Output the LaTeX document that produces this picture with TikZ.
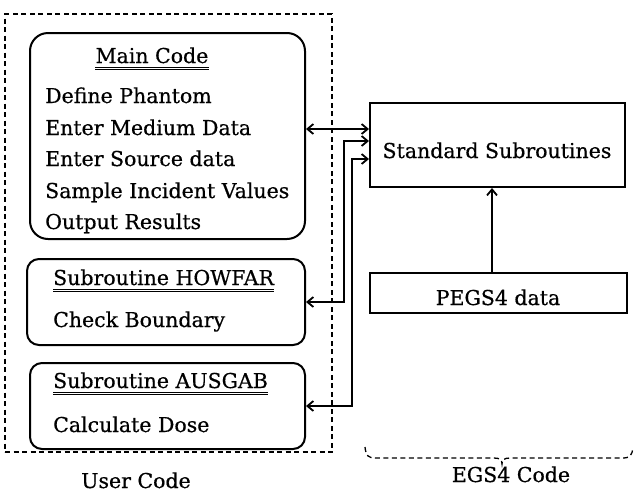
\documentclass[tikz,border=0pt]{standalone}
\usepackage{fontspec}
\setmainfont{DejaVu Serif}[FakeBold=0.6]
\usetikzlibrary{arrows.meta}
\begin{document}
\begin{tikzpicture}[x=1pt,y=-1pt,
    >={Straight Barb[length=6pt,width=10pt]},
    box/.style={draw, line width=2pt, inner sep=0pt},
    ubox/.style={box, rounded corners=18pt},
    txt/.style={anchor=base west, inner sep=0pt, font=\fontsize{20.5}{24}\selectfont},
    ctxt/.style={txt, anchor=base},
    link/.style={line width=1.8pt, <->},
    uline/.style={double, double distance=1.6pt, line width=0.9pt},
    frame/.style={draw, line width=1.3pt, dash pattern=on 5pt off 3.5pt}]
  \useasboundingbox (0,0) rectangle (635,496);

  % user side
  \node[frame, minimum width=327pt, minimum height=438pt] (user) at (168.5,233) {};
  \node[ubox, minimum width=275pt, minimum height=206pt] (main) at (167.5,136) {};
  \node[ubox, rounded corners=12pt, minimum width=278pt, minimum height=86pt] (howfar) at (166,302) {};
  \node[ubox, rounded corners=12pt, minimum width=275pt, minimum height=86pt] (ausgab) at (167.5,406) {};

  \node[ctxt] (mt) at (152,63) {Main Code};
  \node[txt] (m1) at (45,103) {Define Phantom};
  \node[txt] (m2) at (45,135) {Enter Medium Data};
  \node[txt] (m3) at (45,166) {Enter Source data};
  \node[txt] (m4) at (45,198) {Sample Incident Values};
  \node[txt] (m5) at (45,229) {Output Results};

  \node[txt] (ht) at (53,285) {Subroutine HOWFAR};
  \node[txt] (h1) at (53,327) {Check Boundary};
  \node[txt] (at) at (53,388) {Subroutine AUSGAB};
  \node[txt] (a1) at (53,432) {Calculate Dose};

  % double rules under the headings
  \foreach \t in {mt,ht,at}
    \draw[uline] ([yshift=-5.5pt]\t.base west) -- ([yshift=-5.5pt]\t.base east);

  % EGS4 side
  \node[box, minimum width=255pt, minimum height=84pt] (std) at (497.5,145) {};
  \node[ctxt] (stdtxt) at (497,158) {Standard Subroutines};
  \node[box, minimum width=257pt, minimum height=40pt] (pegs) at (498.5,293) {};
  \node[ctxt] (pegstxt) at (498,305) {PEGS4 data};

  % calls into the standard subroutines
  \draw[link] (main.east |- 0,129) -- ([yshift=16pt]std.west);
  \draw[link] (howfar.east) -- ++(38,0) |- ([yshift=4pt]std.west);
  \draw[link] (ausgab.east) -- ++(46,0) |- ([yshift=-14pt]std.west);
  \draw[line width=1.8pt, ->] (pegs.north -| 492,0) -- (std.south -| 492,0);

  % dashed brace under the EGS4 part
  \coordinate (bl) at (365,447);
  \coordinate (br) at (633,447);
  \draw[line width=1.3pt, dash pattern=on 5pt off 3.5pt] (bl) .. controls (366,456) and (368,458) .. (376,458)
    -- (494,458) .. controls (500,458) and (502,460) .. (502,464)
    .. controls (502,460) and (504,458) .. (510,458) -- (622,458)
    .. controls (630,458) and (632,456) .. (br);

  \node[ctxt] (ulab) at (136,488) {User Code};
  \node[ctxt] (elab) at (511,482) {EGS4 Code};
\end{tikzpicture}
\end{document}
